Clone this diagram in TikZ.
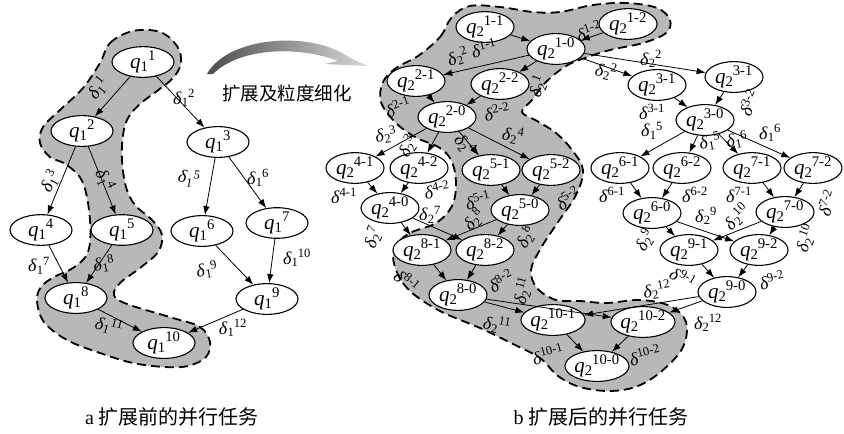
\documentclass[tikz,border=0pt]{standalone}
\usepackage{fontspec}
\setmainfont{Liberation Serif}
\newfontfamily\cjk{Noto Sans CJK SC}
\usetikzlibrary{arrows.meta,shapes.geometric}
\newcommand\qlab[2]{\textit{q}\textsubscript{#1}\kern-0.5pt\textsuperscript{#2}}
\newcommand\dlab[2]{\textit{δ}\textsubscript{#1}\kern-0.5pt\textsuperscript{#2}}
\newcommand\dsup[1]{\textit{δ}\textsuperscript{#1}}
\tikzset{
  qn/.style={ellipse, draw, line width=1.1pt, fill=white, minimum width=58pt, minimum height=26pt, inner sep=0pt, font=\fontsize{21}{21}\selectfont},
  qa/.style={qn, minimum width=62pt, minimum height=28pt},
  ed/.style={-{Latex[length=9pt,width=6.5pt]}, line width=0.8pt},
  lb/.style={font=\fontsize{18}{18}\selectfont, inner sep=0pt},
  region/.style={draw, dash pattern=on 9pt off 5pt, line width=1.8pt, fill=black!28},
  captext/.style={font=\fontsize{20}{20}\selectfont, inner sep=0pt},
}
\begin{document}
\begin{tikzpicture}[x=1pt,y=-1pt]
\useasboundingbox (0,0) rectangle (844,434);
\fill[white] (0,0) rectangle (844,434);

% ---------- shaded regions ----------
\path[region] plot[smooth cycle, tension=0.6] coordinates {
(100,63) (110,43) (133,31) (160,32) (177,46) (181,63) (173,78) (157,91) (140,104) (128,118) (123,135) (122,160) (126,187) (135,205) (152,220) (162,235) (158,252) (140,268) (120,283) (114,295) (127,304) (173,318) (200,327) (210,342) (206,357) (188,366) (165,367) (133,363) (100,353) (67,340) (44,322) (37,301) (41,287) (54,277) (73,268) (88,252) (90,220) (83,183) (67,165) (50,157) (40,143) (43,127) (60,110) (83,88)};

\path[region] plot[smooth cycle, tension=0.6] coordinates {
(418,56) (440,37) (452,17) (470,6) (500,7) (533,12) (560,12) (593,5) (627,3) (657,8) (670,20) (666,33) (643,43) (610,50) (585,58) (566,66) (546,82) (532,100) (522,112) (537,121) (556,133) (572,150) (583,170) (576,195) (558,222) (541,248) (531,270) (537,288) (556,300) (580,301) (607,303) (640,300) (670,306) (686,322) (683,347) (663,370) (638,386) (610,391) (580,387) (558,376) (540,358) (513,344) (480,328) (440,311) (410,291) (396,270) (394,250) (408,234) (436,223) (452,206) (456,184) (452,162) (440,148) (415,137) (395,122) (381,102) (383,82) (396,68)};

% ---------- curved arrow ----------
\shade[left color=black!70, right color=black!15]
 (207,74) .. controls (228,36) and (312,30) .. (350,58) -- (368,66) -- (325,64) -- (338,61)
 .. controls (300,46) and (240,47) .. (213,74) -- cycle;
\node[font=\cjk\fontsize{18.5}{18.5}\selectfont, inner sep=0pt] (title) at (287,93) {扩展及粒度细化};

% ---------- left graph ----------
\node[qa] (m1) at (143,62) {\qlab{1}{1}};
\node[qa] (m2) at (82,131) {\qlab{1}{2}};
\node[qa] (m3) at (218,142) {\qlab{1}{3}};
\node[qa] (m4) at (41,230) {\qlab{1}{4}};
\node[qa] (m5) at (122,230) {\qlab{1}{5}};
\node[qa] (m6) at (202,231) {\qlab{1}{6}};
\node[qa] (m7) at (277,223) {\qlab{1}{7}};
\node[qa] (m8) at (76,298) {\qlab{1}{8}};
\node[qa] (m9) at (267,299) {\qlab{1}{9}};
\node[qa] (m10) at (164,343) {\qlab{1}{10}};

\foreach \a/\b in {m1/m2,m1/m3,m2/m4,m2/m5,m3/m6,m3/m7,m4/m8,m5/m8,m6/m9,m7/m9,m8/m10,m9/m10}
  \draw[ed] (\a) -- (\b);

\node[lb, rotate=50] (la1) at (98,88) {\dlab{1}{1}};
\node[lb] (la2) at (184,98) {\dlab{1}{2}};
\node[lb, rotate=60] (la3) at (50,181) {\dlab{1}{3}};
\node[lb, rotate=-65] (la4) at (105,180) {\dlab{1}{4}};
\node[lb, rotate=-10] (la5) at (189,178) {\dlab{1}{5}};
\node[lb] (la6) at (258,178) {\dlab{1}{6}};
\node[lb] (la7) at (39,266) {\dlab{1}{7}};
\node[lb, rotate=10] (la8) at (104,264) {\dlab{1}{8}};
\node[lb, rotate=10] (la9) at (207,270) {\dlab{1}{9}};
\node[lb] (la10) at (297,258) {\dlab{1}{10}};
\node[lb, rotate=-15] (la11) at (109,326) {\dlab{1}{11}};
\node[lb] (la12) at (233,328) {\dlab{1}{12}};

% ---------- right graph ----------
\node[qn] (n11) at (485,27) {\qlab{2}{1-1}};
\node[qn] (n10) at (556,49) {\qlab{2}{1-0}};
\node[qn] (n12) at (628,24) {\qlab{2}{1-2}};
\node[qn] (n21) at (416,81) {\qlab{2}{2-1}};
\node[qn] (n22) at (500,84) {\qlab{2}{2-2}};
\node[qn] (n20) at (447,117) {\qlab{2}{2-0}};
\node[qn] (n31a) at (657,85) {\qlab{2}{3-1}};
\node[qn] (n31b) at (734,77) {\qlab{2}{3-1}};
\node[qn] (n30) at (705,120) {\qlab{2}{3-0}};
\node[qn] (n41) at (355,168) {\qlab{2}{4-1}};
\node[qn] (n42) at (419,168) {\qlab{2}{4-2}};
\node[qn] (n51) at (491,170) {\qlab{2}{5-1}};
\node[qn] (n52) at (551,170) {\qlab{2}{5-2}};
\node[qn] (n40) at (390,208) {\qlab{2}{4-0}};
\node[qn] (n50) at (520,210) {\qlab{2}{5-0}};
\node[qn] (n61) at (620,168) {\qlab{2}{6-1}};
\node[qn] (n62) at (682,168) {\qlab{2}{6-2}};
\node[qn] (n71) at (752,168) {\qlab{2}{7-1}};
\node[qn] (n72) at (813,168) {\qlab{2}{7-2}};
\node[qn] (n60) at (652,213) {\qlab{2}{6-0}};
\node[qn] (n70) at (785,212) {\qlab{2}{7-0}};
\node[qn] (n81) at (422,250) {\qlab{2}{8-1}};
\node[qn] (n82) at (485,250) {\qlab{2}{8-2}};
\node[qn] (n80) at (458,295) {\qlab{2}{8-0}};
\node[qn] (n91) at (689,250) {\qlab{2}{9-1}};
\node[qn] (n92) at (759,250) {\qlab{2}{9-2}};
\node[qn] (n90) at (727,292) {\qlab{2}{9-0}};
\node[qn] (n101) at (553,320) {\qlab{2}{10-1}};
\node[qn] (n102) at (643,322) {\qlab{2}{10-2}};
\node[qn] (n100) at (597,366) {\qlab{2}{10-0}};

\foreach \a/\b in {n11/n10,n12/n10,n10/n21,n10/n22,n10/n31a,n10/n31b,n21/n20,n22/n20,n31a/n30,n31b/n30,
  n20/n41,n20/n42,n20/n51,n20/n52,n30/n61,n30/n62,n30/n71,n30/n72,n41/n40,n42/n40,n51/n50,n52/n50,
  n61/n60,n62/n60,n71/n70,n72/n70,n40/n81,n40/n82,n50/n81,n50/n82,n60/n91,n60/n92,n70/n91,n70/n92,
  n81/n80,n82/n80,n91/n90,n92/n90,n80/n101,n80/n102,n90/n101,n90/n102,n101/n100,n102/n100}
  \draw[ed] (\a) -- (\b);

\node[lb, rotate=15] (lb1) at (484,48) {\dsup{1-1}};
\node[lb, rotate=20] (lb2) at (589,31) {\dsup{1-2}};
\node[lb, rotate=20] (lb3) at (458,57) {\dlab{2}{2}};
\node[lb, rotate=70] (lb4) at (538,86) {\dlab{2}{1}};
\node[lb, rotate=-10] (lb5) at (606,71) {\dlab{2}{2}};
\node[lb] (lb6) at (651,59) {\dlab{2}{2}};
\node[lb, rotate=20] (lb7) at (398,107) {\dsup{2-1}};
\node[lb, rotate=10] (lb8) at (497,112) {\dsup{2-2}};
\node[lb] (lb9) at (652,112) {\dsup{3-1}};
\node[lb, rotate=65] (lb10) at (749,103) {\dsup{3-2}};
\node[lb, rotate=10] (lb11) at (386,135) {\dlab{2}{3}};
\node[lb, rotate=60] (lb12) at (408,146) {\dlab{2}{3}};
\node[lb, rotate=-50] (lb13) at (465,145) {\dlab{2}{4}};
\node[lb, rotate=-10] (lb14) at (513,135) {\dlab{2}{4}};
\node[lb] (lb15) at (652,131) {\dlab{1}{5}};
\node[lb, rotate=10] (lb16) at (710,142) {\dlab{1}{5}};
\node[lb, rotate=10] (lb17) at (737,140) {\dlab{1}{6}};
\node[lb] (lb18) at (770,133) {\dlab{1}{6}};
\node[lb] (lb19) at (344,196) {\dsup{4-1}};
\node[lb, rotate=10] (lb20) at (437,190) {\dsup{4-2}};
\node[lb, rotate=15] (lb21) at (478,200) {\dsup{5-1}};
\node[lb, rotate=35] (lb22) at (568,198) {\dsup{5-2}};
\node[lb, rotate=70] (lb23) at (373,237) {\dlab{2}{7}};
\node[lb] (lb24) at (430,215) {\dlab{2}{7}};
\node[lb, rotate=45] (lb25) at (474,220) {\dlab{2}{8}};
\node[lb, rotate=60] (lb26) at (526,237) {\dlab{2}{8}};
\node[lb, rotate=-40] (lb27) at (407,281) {\dsup{8-1}};
\node[lb, rotate=30] (lb28) at (501,281) {\dsup{8-2}};
\node[lb, rotate=-10] (lb29) at (497,325) {\dlab{2}{11}};
\node[lb, rotate=75] (lb30) at (523,291) {\dlab{2}{11}};
\node[lb, rotate=10] (lb31) at (657,290) {\dlab{2}{12}};
\node[lb] (lb32) at (708,323) {\dlab{2}{12}};
\node[lb] (lb33) at (612,195) {\dsup{6-1}};
\node[lb] (lb34) at (695,195) {\dsup{6-2}};
\node[lb] (lb35) at (739,195) {\dsup{7-1}};
\node[lb, rotate=70] (lb36) at (827,203) {\dsup{7-2}};
\node[lb, rotate=60] (lb37) at (645,240) {\dlab{2}{9}};
\node[lb] (lb38) at (706,216) {\dlab{2}{9}};
\node[lb, rotate=45] (lb39) at (737,217) {\dlab{2}{10}};
\node[lb, rotate=70] (lb40) at (806,238) {\dlab{2}{10}};
\node[lb, rotate=-30] (lb41) at (683,278) {\dsup{9-1}};
\node[lb, rotate=15] (lb42) at (772,280) {\dsup{9-2}};
\node[lb, rotate=15] (lb43) at (548,354) {\dsup{10-1}};
\node[lb, rotate=15] (lb44) at (645,355) {\dsup{10-2}};

% ---------- captions ----------
\node[captext] (capa) at (172,417) {a {\cjk 扩展前的并行任务}};
\node[captext] (capb) at (601,417) {b {\cjk 扩展后的并行任务}};
\end{tikzpicture}
\end{document}
